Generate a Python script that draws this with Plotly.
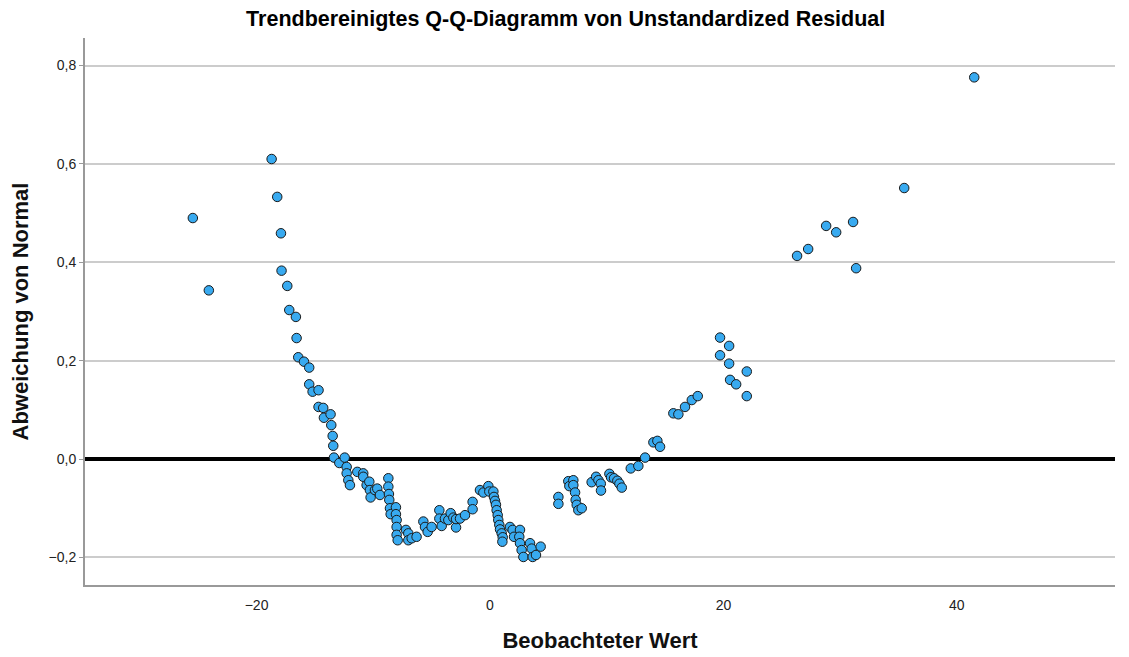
import plotly.graph_objects as go

# Observed values (Beobachteter Wert)
observed = [
    -25.46, -24.09,
    -18.71, -18.23, -17.91, -17.86, -17.37, -17.20, -16.63, -16.57, -16.43, -15.94,
    -15.49, -15.49, -15.20, -14.69, -14.69, -14.29, -14.23, -13.66, -13.60, -13.48,
    -13.43, -13.37, -12.91, -12.45, -12.28, -12.28, -12.14, -12.00, -11.37, -10.86,
    -10.86, -10.57, -10.34, -10.29, -10.23, -9.86, -9.66, -9.43, -8.71, -8.71,
    -8.66, -8.63, -8.57, -8.51, -8.06, -8.06, -8.00, -8.00, -8.00, -7.91,
    -7.20, -7.00, -7.00, -6.71, -6.29,
    -5.71, -5.57, -5.34, -5.00, -4.34, -4.34, -4.14, -3.86, -3.57, -3.37,
    -3.14, -2.91, -2.91, -2.57, -2.14, -1.49, -1.49, -0.86, -0.57, -0.14,
    -0.06, 0.29, 0.34, 0.43, 0.51, 0.57, 0.66, 0.71, 0.80, 0.86,
    1.00, 1.09, 1.06, 1.71, 1.94, 2.06, 2.57, 2.51, 2.57, 2.71,
    2.86, 3.43, 3.57, 3.66, 3.94, 4.34,
    5.86, 5.86, 6.71, 6.80, 7.14, 7.14, 7.29, 7.34, 7.43, 7.57,
    7.86, 8.71, 9.09, 9.29, 9.49, 9.51, 10.23, 10.37, 10.63, 10.91,
    11.09, 11.29, 12.06, 12.71, 13.29, 14.00, 14.34, 14.57, 15.71, 16.14,
    16.71, 17.29, 17.80, 19.71, 20.49, 19.71, 20.49, 22.00, 20.57, 21.09,
    22.00,
    26.31, 27.26, 28.80, 29.66, 31.11, 31.37, 35.49, 41.49,
]

# Deviation from normal (Abweichung von Normal)
deviation = [
    0.490, 0.343,
    0.610, 0.533, 0.459, 0.383, 0.352, 0.303, 0.289, 0.246, 0.207, 0.198,
    0.186, 0.152, 0.137, 0.140, 0.106, 0.104, 0.084, 0.091, 0.069, 0.047,
    0.027, 0.003, -0.008, 0.003, -0.016, -0.029, -0.043, -0.053, -0.026, -0.029,
    -0.036, -0.053, -0.046, -0.063, -0.078, -0.063, -0.060, -0.073, -0.039, -0.056,
    -0.071, -0.083, -0.100, -0.112, -0.098, -0.112, -0.124, -0.138, -0.154, -0.165,
    -0.144, -0.151, -0.165, -0.161, -0.158,
    -0.127, -0.138, -0.148, -0.138, -0.104, -0.121, -0.136, -0.121, -0.124, -0.110,
    -0.119, -0.139, -0.122, -0.121, -0.114, -0.087, -0.102, -0.063, -0.068, -0.055,
    -0.066, -0.066, -0.077, -0.085, -0.093, -0.104, -0.114, -0.124, -0.134, -0.143,
    -0.151, -0.159, -0.168, -0.138, -0.144, -0.158, -0.144, -0.158, -0.171, -0.185,
    -0.199, -0.171, -0.182, -0.199, -0.195, -0.178,
    -0.077, -0.091, -0.045, -0.055, -0.043, -0.053, -0.068, -0.083, -0.093, -0.104,
    -0.100, -0.047, -0.036, -0.043, -0.050, -0.064, -0.030, -0.037, -0.039, -0.044,
    -0.050, -0.058, -0.019, -0.014, 0.003, 0.034, 0.037, 0.025, 0.093, 0.091,
    0.106, 0.120, 0.128, 0.247, 0.230, 0.211, 0.194, 0.178, 0.161, 0.152,
    0.128,
    0.413, 0.427, 0.474, 0.461, 0.482, 0.388, 0.551, 0.776,
]

x_ticks = [-20, 0, 20, 40]
y_ticks = [-0.2, 0.0, 0.2, 0.4, 0.6, 0.8]

FONT = "Liberation Sans, Arial, sans-serif"

fig = go.Figure()
fig.add_trace(go.Scatter(
    x=observed, y=deviation, mode="markers",
    marker=dict(size=9.5, color="#38AAF0", line=dict(color="#1a1a1a", width=1)),
    hoverinfo="x+y", showlegend=False,
))

fig.update_layout(
    width=1121, height=649,
    paper_bgcolor="white", plot_bgcolor="white",
    margin=dict(l=77, r=14, t=30, b=72),
    separators=",.",
    font=dict(family=FONT, size=14, color="#222"),
    title=dict(
        text="Trendbereinigtes Q-Q-Diagramm von Unstandardized Residual",
        x=0.4975, xref="container", xanchor="center",
        y=1 - 10.5 / 649, yref="container", yanchor="middle",
        font=dict(family=FONT, size=21.5, color="#000", weight="bold"),
    ),
    xaxis=dict(
        range=[-34.7, 53.55], tickvals=x_ticks, tickformat="d",
        showgrid=False, zeroline=False, automargin=False,
        showline=True, linecolor="#999", linewidth=2,
        ticks="outside", ticklen=6, tickcolor="rgba(0,0,0,0)",
        tickfont=dict(family=FONT, size=14, color="#222"),
        title=dict(text="Beobachteter Wert", standoff=21,
                   font=dict(family=FONT, size=22, color="#111", weight="bold")),
    ),
    yaxis=dict(
        range=[-0.256, 0.856], tickvals=y_ticks, tickformat=".1f",
        showgrid=True, gridcolor="#cccccc", gridwidth=1.5,
        zeroline=True, zerolinecolor="#000", zerolinewidth=3.5,
        showline=True, linecolor="#999", linewidth=2, automargin=False,
        ticks="outside", ticklen=4, tickcolor="#999",
        tickfont=dict(family=FONT, size=14, color="#222"),
        title=dict(text="Abweichung von Normal", standoff=16,
                   font=dict(family=FONT, size=22, color="#111", weight="bold")),
    ),
)

fig.write_html("out.html")
